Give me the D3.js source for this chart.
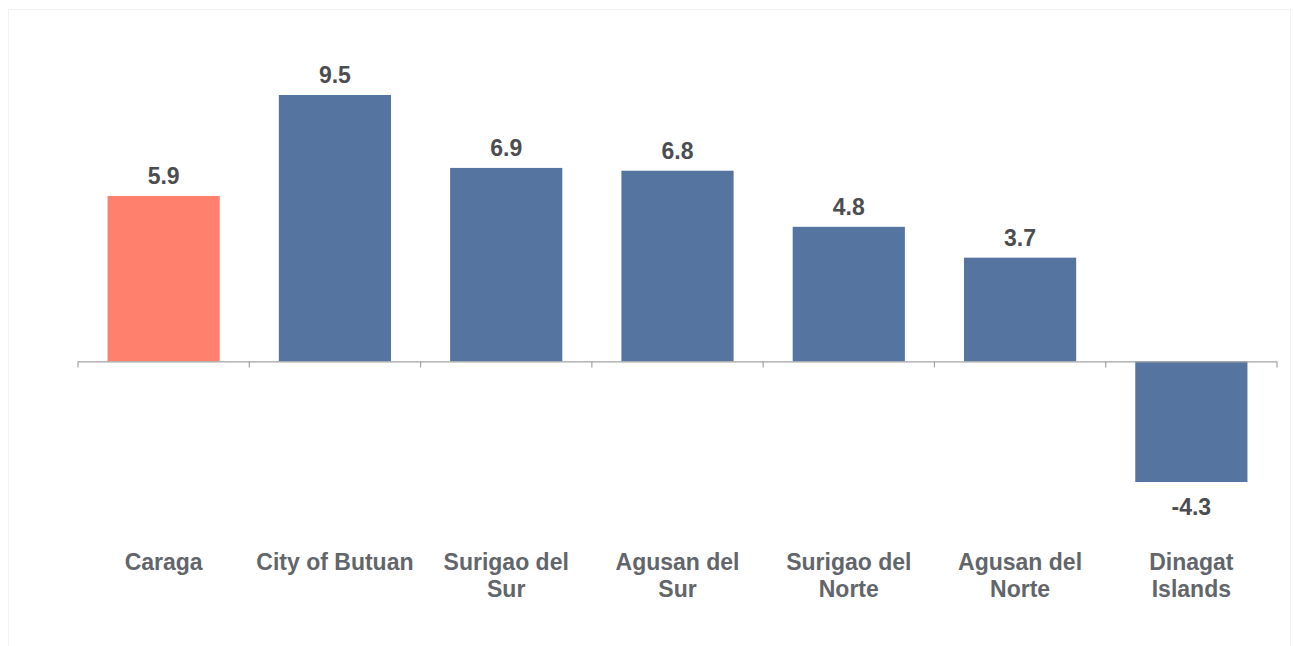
<!DOCTYPE html>
<html>
<head>
<meta charset="utf-8">
<script src="https://cdn.jsdelivr.net/npm/d3@7"></script>
<style>
  html, body { margin: 0; padding: 0; background: #fff; }
  svg { display: block; font-family: "Liberation Sans", Arial, sans-serif; }
</style>
</head>
<body>
<div id="chart"></div>
<script>
// chart data
const categories = ["Caraga", "City of Butuan", "Surigao del\nSur", "Agusan del\nSur",
    "Surigao del\nNorte", "Agusan del\nNorte", "Dinagat\nIslands"];
const values = [5.9, 9.5, 6.9, 6.8, 4.8, 3.7, -4.3];
const highlight = ["Caraga"];

const width = 1293, height = 646;
const colors = { main: "#5574a0", highlight: "#ff806c", axis: "#a3a3a3" };

const svg = d3.select("#chart").append("svg")
    .attr("width", width).attr("height", height);

// faint frame around the plot
svg.append("rect")
    .attr("x", 8.5).attr("y", 9.5)
    .attr("width", 1282).attr("height", 640)
    .style("fill", "none").style("stroke", "#f2f2f2");

const data = categories.map((c, i) => ({ name: c, value: values[i] }));

const x = d3.scaleBand()
    .domain(categories)
    .range([78, 1277])
    .paddingInner(0.345)
    .paddingOuter(0.1725);

const y = d3.scaleLinear()
    .domain(d3.extent(values))
    .range([482, 95]);

const y0 = y(0);

// plain hyphen for negatives, like the original
const fmt = v => d3.format(".1f")(v).replace("\u2212", "-");

// bars
svg.append("g").selectAll("rect")
    .data(data)
    .join("rect")
    .attr("x", d => x(d.name))
    .attr("width", x.bandwidth())
    .attr("y", d => Math.min(y(d.value), y0))
    .attr("height", d => Math.abs(y(d.value) - y0))
    .style("fill", d => highlight.includes(d.name) ? colors.highlight : colors.main);

// axis line with ticks at the band edges
const axis = svg.append("g").attr("class", "axis");
axis.append("line")
    .attr("x1", x.range()[0]).attr("x2", x.range()[1])
    .attr("y1", y0 + 0.5).attr("y2", y0 + 0.5)
    .style("stroke", colors.axis).style("stroke-width", 1.2);

const edges = categories.map(c => x(c) - x.step() * x.paddingInner() / 2)
    .concat([x.range()[1]]);
axis.selectAll("line.tick")
    .data(edges)
    .join("line")
    .attr("class", "tick")
    .attr("x1", d => d).attr("x2", d => d)
    .attr("y1", y0).attr("y2", y0 + 6)
    .style("stroke", colors.axis).style("stroke-width", 1.2);

// value labels
svg.append("g").selectAll("text")
    .data(data)
    .join("text")
    .attr("x", d => x(d.name) + x.bandwidth() / 2)
    .attr("y", d => d.value >= 0 ? y(d.value) - 12 : y(d.value) + 33)
    .attr("text-anchor", "middle")
    .style("font-size", "23px").style("font-weight", "bold")
    .style("fill", "#4b4d50")
    .text(d => fmt(d.value));

// category labels
const cats = svg.append("g").selectAll("text")
    .data(data)
    .join("text")
    .attr("x", d => x(d.name) + x.bandwidth() / 2)
    .attr("y", 570)
    .attr("text-anchor", "middle")
    .style("font-size", "23px").style("font-weight", "bold")
    .style("fill", "#62666b");

cats.selectAll("tspan")
    .data(d => d.name.split("\n").map(t => ({ t, cx: x(d.name) + x.bandwidth() / 2 })))
    .join("tspan")
    .attr("x", d => d.cx)
    .attr("dy", (d, i) => i === 0 ? 0 : 27)
    .text(d => d.t);
</script>
</body>
</html>
